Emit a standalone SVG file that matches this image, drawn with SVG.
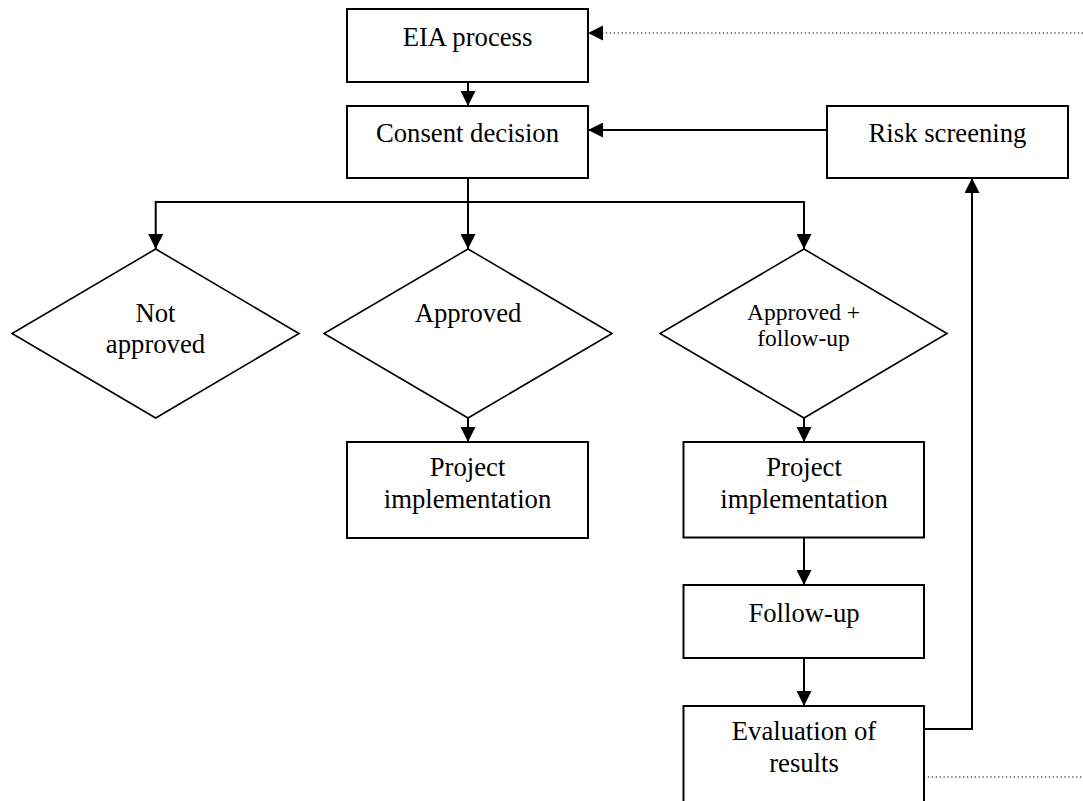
<svg xmlns="http://www.w3.org/2000/svg" width="1083" height="801" viewBox="0 0 1083 801">
  <style>
    .box { fill: #ffffff; stroke: #000000; stroke-width: 2; }
    .dia { fill: #ffffff; stroke: #000000; stroke-width: 1.6; }
    .lbl { font-family: "Liberation Serif", "Times New Roman", serif; font-size: 26.7px; fill: #000000; text-anchor: middle; }
    .small { font-size: 23.5px; }
    .edge { fill: none; stroke: #000000; stroke-width: 2; }
    .dots { fill: none; stroke: #555555; stroke-width: 1.3; stroke-dasharray: 1.3 2.6; }
  </style>
  <defs>
    <marker id="arrow" viewBox="0 0 15 15" refX="15" refY="7.5" markerWidth="15" markerHeight="15" markerUnits="userSpaceOnUse" orient="auto">
      <path d="M0,0 L15,7.5 L0,15 z" fill="#000000"/>
    </marker>
  </defs>

  <rect width="1083" height="801" fill="#ffffff"/>

  <!-- connectors -->
  <g id="connectors">
    <line class="edge" x1="468" y1="82" x2="468" y2="106" marker-end="url(#arrow)"/>
    <line class="edge" x1="827" y1="130" x2="588" y2="130" marker-end="url(#arrow)"/>
    <line class="dots" x1="1083" y1="33" x2="603" y2="33"/>
    <path d="M603,25.5 L588,33 L603,40.5 z" fill="#000000"/>
    <line class="edge" x1="468" y1="178" x2="468" y2="249" marker-end="url(#arrow)"/>
    <polyline class="edge" points="468,202 155.7,202 155.7,249" marker-end="url(#arrow)"/>
    <polyline class="edge" points="468,202 804,202 804,249" marker-end="url(#arrow)"/>
    <line class="edge" x1="468" y1="418" x2="468" y2="442" marker-end="url(#arrow)"/>
    <line class="edge" x1="804" y1="418" x2="804" y2="442" marker-end="url(#arrow)"/>
    <line class="edge" x1="804" y1="537" x2="804" y2="585" marker-end="url(#arrow)"/>
    <line class="edge" x1="804" y1="658" x2="804" y2="706" marker-end="url(#arrow)"/>
    <polyline class="edge" points="924,729 972,729 972,178" marker-end="url(#arrow)"/>
    <line class="dots" x1="924" y1="777" x2="1083" y2="777"/>
  </g>

  <g id="eia">
    <rect class="box" x="347" y="9" width="241" height="73"/>
    <text class="lbl" x="467.5" y="46">EIA process</text>
  </g>

  <g id="consent">
    <rect class="box" x="347" y="106" width="241" height="72"/>
    <text class="lbl" x="467.5" y="142">Consent decision</text>
  </g>

  <g id="risk">
    <rect class="box" x="827" y="106" width="241" height="72"/>
    <text class="lbl" x="947.5" y="142">Risk screening</text>
  </g>

  <g id="not-approved">
    <polygon class="dia" points="155.7,249 299,333.5 155.7,418 12,333.5"/>
    <text class="lbl" x="155.5" y="322">Not</text>
    <text class="lbl" x="155.5" y="353">approved</text>
  </g>

  <g id="approved">
    <polygon class="dia" points="468,249 612,333.5 468,418 324,333.5"/>
    <text class="lbl" x="468" y="322">Approved</text>
  </g>

  <g id="approved-follow-up">
    <polygon class="dia" points="804,249 947,333.5 804,418 660,333.5"/>
    <text class="lbl small" x="803.5" y="319.5">Approved +</text>
    <text class="lbl small" x="803.5" y="346">follow-up</text>
  </g>

  <g id="implementation-a">
    <rect class="box" x="347" y="442" width="241" height="96"/>
    <text class="lbl" x="467.5" y="476">Project</text>
    <text class="lbl" x="467.5" y="507.5">implementation</text>
  </g>

  <g id="implementation-b">
    <rect class="box" x="683.5" y="442" width="240.5" height="95.5"/>
    <text class="lbl" x="804" y="475.5">Project</text>
    <text class="lbl" x="804" y="508">implementation</text>
  </g>

  <g id="follow-up">
    <rect class="box" x="683.5" y="585" width="240.5" height="73"/>
    <text class="lbl" x="804" y="621.5">Follow-up</text>
  </g>

  <g id="evaluation">
    <rect class="box" x="683.5" y="706" width="240.5" height="120"/>
    <text class="lbl" x="804" y="739.5">Evaluation of</text>
    <text class="lbl" x="804" y="771.5">results</text>
  </g>
</svg>
